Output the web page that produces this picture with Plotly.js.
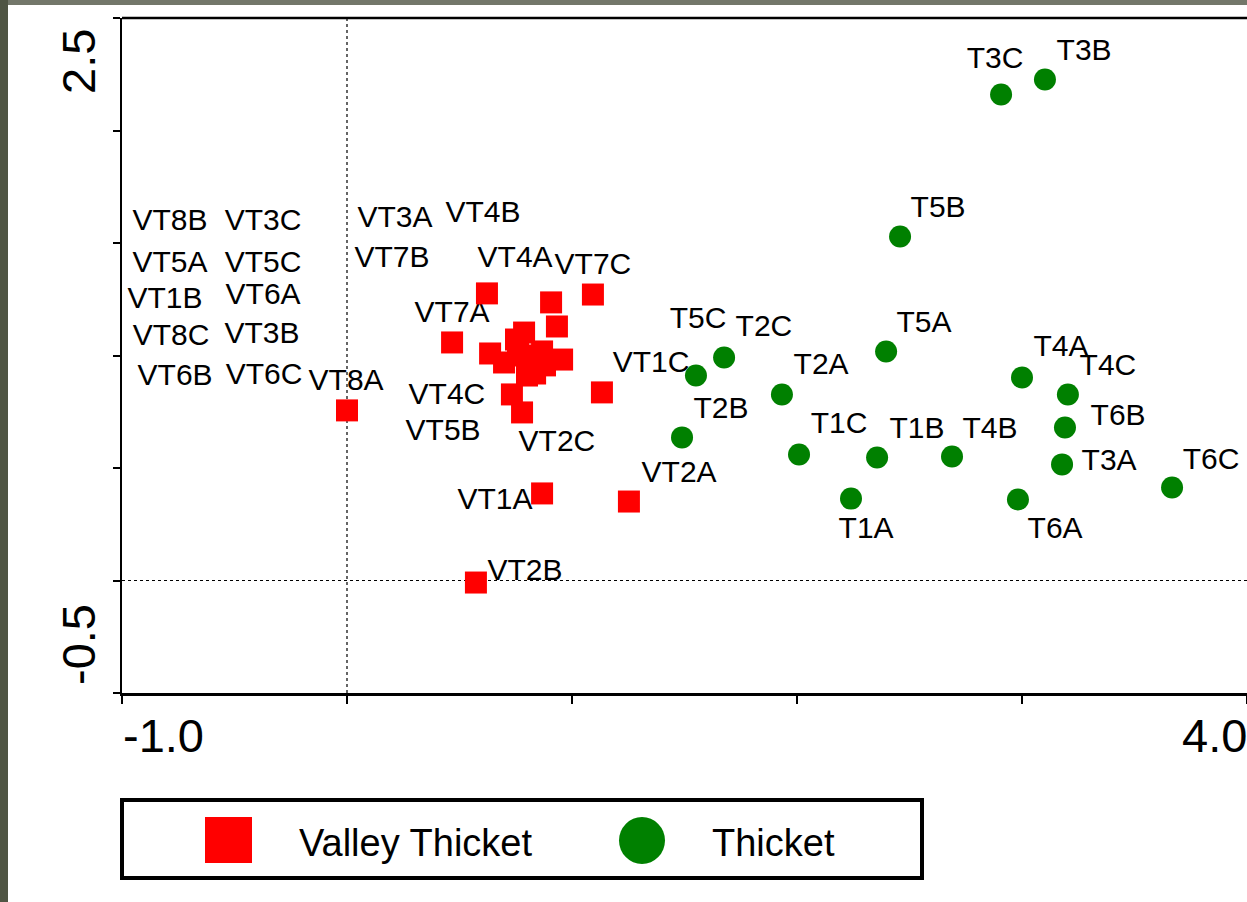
<!DOCTYPE html>
<html>
<head>
<meta charset="utf-8">
<script src="https://cdn.plot.ly/plotly-3.0.1.min.js"></script>
<style>html,body{margin:0;padding:0;background:#fff;}#chart{width:1247px;height:902px;}</style>
</head>
<body>
<div id="chart"></div>
<script>
// Valley Thicket sample scores (axis 1, axis 2)
const vtX = [0.622, 0.907, 1.093, 0.933, 0.467, 0.636, 0.787, 0.751, 0.698, 0.867, 0.956, 0.836,
             0.800, 0.791, 0.733, 0.778, 1.133, 0.867, 1.253, 0.000, 0.573, 0.760, 0.813, 0.880];
const vtY = [1.276, 1.236, 1.271, 1.129, 1.058, 1.009, 1.102, 1.071, 0.969, 1.018, 0.982, 0.920,
             0.911, 1.000, 0.827, 0.747, 0.836, 0.387, 0.351, 0.756, -0.009, 1.022, 0.969, 0.956];
// Valley Thicket labels and where they are printed
const vtLabels = ["VT8B","VT3C","VT5A","VT5C","VT1B","VT6A","VT8C","VT3B","VT6B","VT6C","VT8A","VT3A",
                  "VT7B","VT4B","VT4A","VT7C","VT7A","VT1C","VT4C","VT5B","VT2C","VT1A","VT2A","VT2B"];
const vtLabelX = [-0.787,-0.373,-0.787,-0.373,-0.809,-0.373,-0.782,-0.378,-0.764,-0.369,-0.004,0.213,
                  0.200,0.604,0.747,1.093,0.467,1.351,0.444,0.427,0.933,0.658,1.476,0.791];
const vtLabelY = [1.591,1.591,1.404,1.404,1.244,1.262,1.080,1.089,0.902,0.907,0.880,1.604,
                  1.427,1.627,1.427,1.396,1.182,0.960,0.818,0.658,0.609,0.351,0.471,0.036];
// Thicket samples
const tLabels = ["T1A","T1B","T1C","T2A","T2B","T2C","T3A","T3B","T3C","T4A","T4B","T4C","T5A","T5B","T5C","T6A","T6B","T6C"];
const tX = [2.240, 2.356, 2.009, 1.933, 1.489, 1.676, 3.178, 3.102, 2.907, 3.000, 2.689, 3.204, 2.396, 2.458, 1.551, 2.982, 3.191, 3.667];
const tY = [0.364, 0.547, 0.560, 0.827, 0.636, 0.991, 0.516, 2.227, 2.160, 0.902, 0.551, 0.827, 1.018, 1.529, 0.911, 0.360, 0.680, 0.413];
const tLabelX = [2.307, 2.533, 2.187, 2.107, 1.662, 1.853, 3.387, 3.276, 2.880, 3.173, 2.858, 3.382, 2.564, 2.627, 1.560, 3.147, 3.427, 3.840];
const tLabelY = [0.222, 0.667, 0.689, 0.951, 0.756, 1.120, 0.524, 2.347, 2.311, 1.031, 0.667, 0.947, 1.138, 1.649, 1.156, 0.222, 0.724, 0.529];
// axis
const xTicks = [-1, 0, 1, 2, 3, 4];
const yTicks = [-0.5, 0, 0.5, 1, 1.5, 2, 2.5];
const legendNames = ["Valley Thicket", "Thicket"];

const FONT = 'Arial, "Liberation Sans", sans-serif';
const labelFont = {family: FONT, size: 30, color: '#000'};

// text labels are nudged down slightly (pixel offset applied in layout via yshift-equivalent: none; data kept as read)
const traces = [
  {type:'scatter', mode:'text', x: vtLabelX, y: vtLabelY, text: vtLabels, textposition:'middle center',
   textfont: labelFont, hoverinfo:'skip', showlegend:false, cliponaxis:false},
  {type:'scatter', mode:'text', x: tLabelX, y: tLabelY, text: tLabels, textposition:'middle center',
   textfont: labelFont, hoverinfo:'skip', showlegend:false, cliponaxis:false},
  {type:'scatter', mode:'markers', x: vtX, y: vtY, name: legendNames[0], showlegend:false, cliponaxis:false,
   marker:{symbol:'square', size:22, color:'#ff0000', line:{width:0}}},
  {type:'scatter', mode:'markers', x: tX, y: tY, name: legendNames[1], showlegend:false, cliponaxis:false,
   marker:{symbol:'circle', size:22, color:'#008000', line:{width:0}}}
];

// pixel helpers for paper coords (plot area: x 122..1247, y 18..693)
const px = v => (v - 122) / 1125;
const py = v => (693 - v) / 675;

const axisFont = {family: FONT, size: 47, color: '#000'};

const layout = {
  width: 1247, height: 902,
  margin: {l:122, r:0, t:18, b:209, pad:0},
  paper_bgcolor: '#ffffff', plot_bgcolor: '#ffffff',
  showlegend: false,
  xaxis: {range:[-1,4], showgrid:false, zeroline:false, showline:true, linecolor:'#000', linewidth:2.5,
          ticks:'outside', ticklen:8, tickwidth:2, tickcolor:'#000', tickvals:xTicks, showticklabels:false, fixedrange:true},
  yaxis: {range:[-0.5,2.5], showgrid:false, zeroline:false, showline:true, linecolor:'#000', linewidth:2.5,
          ticks:'outside', ticklen:7, tickwidth:2, tickcolor:'#000', tickvals:yTicks, showticklabels:false, fixedrange:true},
  shapes: [
    // photo border strips
    {type:'rect', xref:'paper', yref:'paper', x0:px(0), x1:px(1247), y0:py(5), y1:py(0), fillcolor:'#73776a', line:{width:0}, layer:'below'},
    {type:'rect', xref:'paper', yref:'paper', x0:px(0), x1:px(8), y0:py(902), y1:py(0), fillcolor:'#4f5544', line:{width:0}, layer:'below'},
    // top frame line
    {type:'line', xref:'paper', yref:'paper', x0:0, x1:1, y0:1, y1:1, line:{color:'#000', width:2.5}},
    // dotted zero lines
    {type:'line', xref:'x', yref:'y', x0:0, x1:0, y0:-0.5, y1:2.5, line:{color:'#000', width:1.2, dash:'3px,3px'}, layer:'below'},
    {type:'line', xref:'x', yref:'y', x0:-1, x1:4, y0:0, y1:0, line:{color:'#000', width:1.2, dash:'3px,3px'}, layer:'below'},
    // legend box
    {type:'rect', xref:'paper', yref:'paper', x0:px(122), x1:px(922), y0:py(878), y1:py(800), line:{color:'#000', width:4}, fillcolor:'rgba(0,0,0,0)'},
    {type:'rect', xref:'paper', yref:'paper', x0:px(205), x1:px(252), y0:py(863), y1:py(817), line:{width:0}, fillcolor:'#ff0000'},
    {type:'circle', xref:'paper', yref:'paper', x0:px(619), x1:px(665), y0:py(864), y1:py(817), line:{width:0}, fillcolor:'#008000'}
  ],
  annotations: [
    {xref:'paper', yref:'paper', x:px(78), y:py(62), text:'2.5', textangle:-90, showarrow:false, font:axisFont, xanchor:'center', yanchor:'middle'},
    {xref:'paper', yref:'paper', x:px(78), y:py(645), text:'-0.5', textangle:-90, showarrow:false, font:axisFont, xanchor:'center', yanchor:'middle'},
    {xref:'paper', yref:'paper', x:px(121), y:py(735), text:'-1.0', showarrow:false, font:axisFont, xanchor:'left', yanchor:'middle'},
    {xref:'paper', yref:'paper', x:px(1180), y:py(735), text:'4.0', showarrow:false, font:axisFont, xanchor:'left', yanchor:'middle'},
    {xref:'paper', yref:'paper', x:px(297), y:py(843), text:legendNames[0], showarrow:false, font:{family:FONT, size:38, color:'#000'}, xanchor:'left', yanchor:'middle'},
    {xref:'paper', yref:'paper', x:px(710), y:py(843), text:legendNames[1], showarrow:false, font:{family:FONT, size:38, color:'#000'}, xanchor:'left', yanchor:'middle'}
  ]
};

Plotly.newPlot('chart', traces, layout, {displayModeBar:false, staticPlot:true});
</script>
</body>
</html>
